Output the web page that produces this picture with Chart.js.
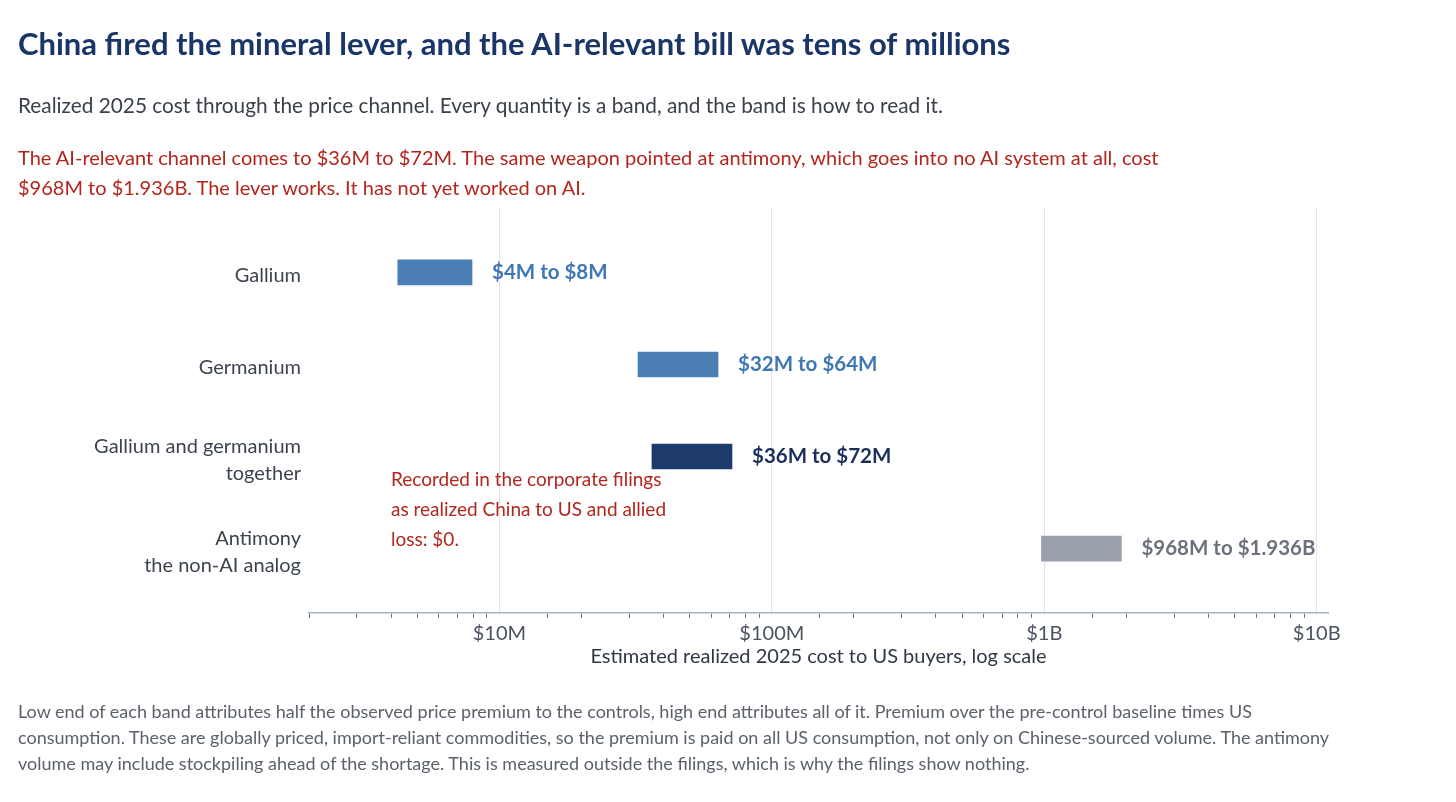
<!DOCTYPE html>
<html><head><meta charset="utf-8">
<script src="https://cdn.jsdelivr.net/npm/chart.js@4.4.1/dist/chart.umd.min.js"></script>
<style>
html,body{margin:0;padding:0;background:#fff;}
body{width:1456px;height:802px;position:relative;overflow:hidden;font-family:Lato,sans-serif;}
#c{position:absolute;left:0;top:0;}
.t{position:absolute;left:18px;white-space:nowrap;margin:0;}
#title{top:24px;font-size:31px;font-weight:700;color:#1a3668;line-height:38px;}
#sub{top:92px;font-size:20.8px;color:#3b414b;line-height:26px;}
#note{top:142px;font-size:20px;color:#b3261e;line-height:30px;}
#foot{top:698px;font-size:18px;color:#5b616b;line-height:26px;}
</style></head><body>
<canvas id="c" width="1456" height="802"></canvas>
<div class="t" id="title">China fired the mineral lever, and the AI-relevant bill was tens of millions</div>
<div class="t" id="sub">Realized 2025 cost through the price channel. Every quantity is a band, and the band is how to read it.</div>
<div class="t" id="note">The AI-relevant channel comes to $36M to $72M. The same weapon pointed at antimony, which goes into no AI system at all, cost<br>$968M to $1.936B. The lever works. It has not yet worked on AI.</div>
<div class="t" id="foot">Low end of each band attributes half the observed price premium to the controls, high end attributes all of it. Premium over the pre-control baseline times US<br>consumption. These are globally priced, import-reliant commodities, so the premium is paid on all US consumption, not only on Chinese-sourced volume. The antimony<br>volume may include stockpiling ahead of the shortage. This is measured outside the filings, which is why the filings show nothing.</div>
<script>
// ---- data ----
const categories = ['Gallium', 'Germanium', ['Gallium and germanium', 'together'], ['Antimony', 'the non-AI analog']];
const lowValues  = [4.2e6, 32e6, 36e6, 968e6];
const highValues = [8e6, 64e6, 72e6, 1936e6];
const bandLabels = ['$4M to $8M', '$32M to $64M', '$36M to $72M', '$968M to $1.936B'];
const tickLabels = {7: '$10M', 8: '$100M', 9: '$1B', 10: '$10B'};
const noteLines = ['Recorded in the corporate filings', 'as realized China to US and allied', 'loss: $0.'];
const noteAnchor = {x: 4e6, y: 2.255};

// ---- styles ----
const barColors = ['#4a7eb5', '#4a7eb5', '#1d3a6c', '#9aa1ab'];
const labelColors = ['#3f77b3', '#3f77b3', '#1a2f5c', '#6b727c'];
const X_MIN = 2e6, X_MAX = 11e9;

function isDecade(v) { const l = Math.log10(v); return Math.abs(l - Math.round(l)) < 1e-9; }

const barLabelPlugin = {
  id: 'barLabels',
  afterDatasetsDraw(chart) {
    const ctx = chart.ctx;
    const meta = chart.getDatasetMeta(0);
    ctx.save();
    ctx.font = 'bold 20.5px Lato';
    ctx.textBaseline = 'middle';
    ctx.textAlign = 'left';
    meta.data.forEach((el, i) => {
      ctx.fillStyle = labelColors[i];
      ctx.fillText(bandLabels[i], el.x + 19, el.y);
    });
    const xs = chart.scales.x, ys = chart.scales.y;
    const nx = xs.getPixelForValue(noteAnchor.x);
    const ny = ys.getPixelForValue(noteAnchor.y);
    ctx.font = '19px Lato';
    ctx.fillStyle = '#b3261e';
    noteLines.forEach((t, i) => ctx.fillText(t, nx, ny + i * 30));
    ctx.restore();
  }
};

new Chart(document.getElementById('c'), {
  type: 'bar',
  data: {
    datasets: [{
      data: categories.map((c, i) => ({y: i, x: [lowValues[i], highValues[i]]})),
      backgroundColor: barColors,
      borderColor: 'rgba(255,255,255,0.45)',
      borderWidth: 1,
      borderSkipped: false,
      barThickness: 27
    }]
  },
  options: {
    indexAxis: 'y',
    responsive: false,
    animation: false,
    layout: {padding: {top: 208, right: 128, bottom: 133, left: 0}},
    plugins: {legend: {display: false}, tooltip: {enabled: false}},
    scales: {
      x: {
        type: 'logarithmic',
        min: X_MIN, max: X_MAX,
        afterFit: s => { s.height = 56; },
        border: {display: true, color: '#a7b3c4', width: 1.5},
        grid: {
          drawTicks: true, tickLength: 5, lineWidth: 1, tickWidth: 1,
          color: c => (c.tick && isDecade(c.tick.value)) ? '#e1e5eb' : 'rgba(0,0,0,0)',
          tickColor: c => (c.tick && !isDecade(c.tick.value) && c.tick.value < X_MAX) ? '#6f7782' : 'rgba(0,0,0,0)'
        },
        ticks: {
          autoSkip: false, maxRotation: 0, padding: 4,
          color: '#4b5361', font: {family: 'Lato', size: 20},
          callback: v => isDecade(v) ? (tickLabels[Math.round(Math.log10(v))] || '') : ''
        },
        title: {
          display: true, text: 'Estimated realized 2025 cost to US buyers, log scale',
          color: '#2f3744', font: {family: 'Lato', size: 20}, padding: {top: 0, bottom: 0}
        }
      },
      y: {
        type: 'linear',
        offset: false,
        min: -0.7, max: 3.7, reverse: true,
        afterFit: s => { s.width = 309; },
        afterBuildTicks: s => { s.ticks = categories.map((_, i) => ({value: i})); },
        border: {display: false},
        grid: {display: false, drawTicks: false, offset: false},
        ticks: {
          padding: 8, color: '#3d4450', labelOffset: 3.5,
          font: {family: 'Lato', size: 20, lineHeight: 1.35},
          callback: v => categories[v]
        }
      }
    }
  },
  plugins: [barLabelPlugin]
});
</script>
</body></html>
